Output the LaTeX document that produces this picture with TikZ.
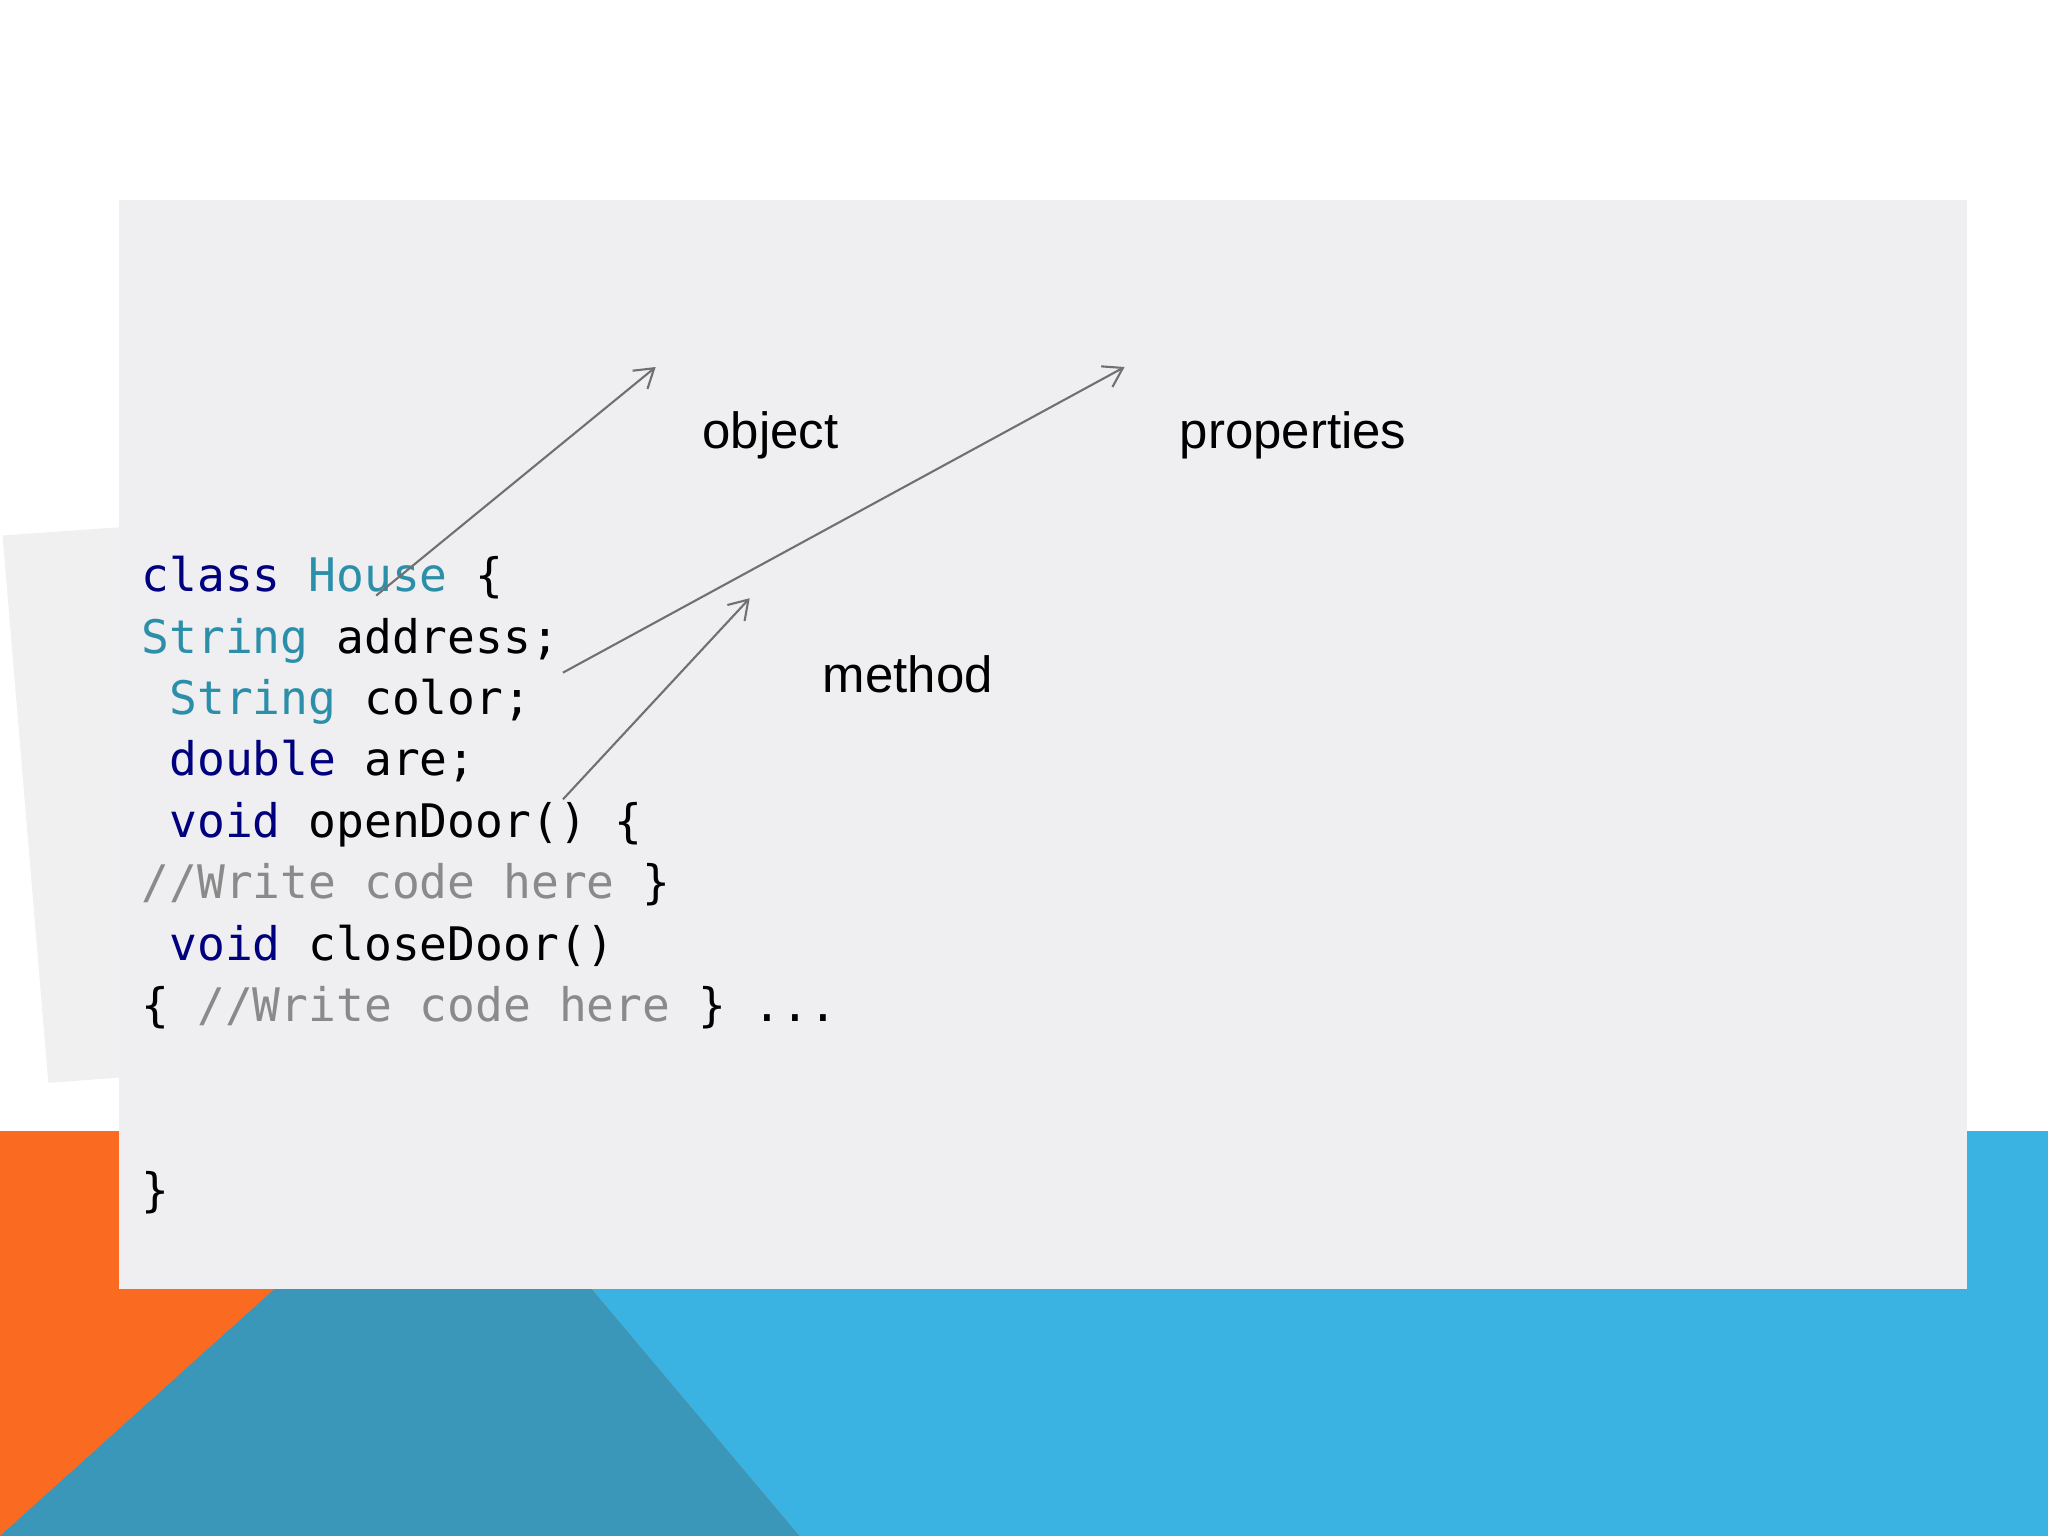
\documentclass[tikz,border=0pt]{standalone}
\usepackage{fontspec}
\setmainfont{Liberation Sans}
\newfontfamily\codefont{DejaVu Sans Mono}
\usetikzlibrary{arrows.meta}
\definecolor{kw}{HTML}{00007F}
\definecolor{ty}{HTML}{2B8FAA}
\definecolor{cm}{HTML}{8A8A8A}
\definecolor{panel}{HTML}{EFEEF0}
\definecolor{orng}{HTML}{FB6A21}
\definecolor{lblue}{HTML}{3BB3E2}
\definecolor{teal}{HTML}{3A97B9}
\definecolor{arr}{HTML}{707070}
\tikzset{
 codeline/.style={anchor=base west,inner sep=0pt,font=\codefont\fontsize{17.7}{20}\selectfont},
 lbl/.style={inner sep=0pt,font=\fontsize{19.5}{22}\selectfont},
 pointer/.style={draw=arr,line width=0.8pt,-{Straight Barb[length=7pt,width=9pt]}}
}
\begin{document}
\begin{tikzpicture}[x=0.5pt,y=-0.5pt]
\useasboundingbox (0,0) rectangle (1568,1176);
\fill[white] (0,0) rectangle (1568,1176);
\fill[orng] (0,866) rectangle (1568,1176);
\fill[lblue] (350,866) -- (1568,866) -- (1568,1176) -- (612,1176) -- (453,987) -- cycle;
\fill[teal] (210,987) -- (453,987) -- (612,1176) -- (0,1176) -- cycle;
\fill[gray!12] (2,410) -- (200,396) -- (230,815) -- (37,829) -- cycle;
\fill[panel] (91,153) rectangle (1506,987);
\node[codeline] (l1) at (108,453) {\textcolor{kw}{class} \textcolor{ty}{House} \{};
\node[codeline] (l2) at (108,500) {\textcolor{ty}{String} address;};
\node[codeline] (l3) at (108,547) {\ \textcolor{ty}{String} color;};
\node[codeline] (l4) at (108,594) {\ \textcolor{kw}{double} are;};
\node[codeline] (l5) at (108,641) {\ \textcolor{kw}{void} openDoor() \{};
\node[codeline] (l6) at (108,688) {\textcolor{cm}{//Write code here} \}};
\node[codeline] (l7) at (108,735) {\ \textcolor{kw}{void} closeDoor()};
\node[codeline] (l8) at (108,782) {\{ \textcolor{cm}{//Write code here} \} ...};
\node[codeline] (l9) at (108,924) {\}};
\node[lbl] (obj) at (590,333) {object};
\node[lbl] (prop) at (990,333) {properties};
\node[lbl] (meth) at (695,516) {method};
\coordinate (a1s) at (288,456); \coordinate (a1e) at (502,281);
\coordinate (a2s) at (431,515); \coordinate (a2e) at (861,281);
\coordinate (a3s) at (431,612); \coordinate (a3e) at (574,458);
\draw[pointer] (a1s) -- (a1e);
\draw[pointer] (a2s) -- (a2e);
\draw[pointer] (a3s) -- (a3e);
\end{tikzpicture}
\end{document}
